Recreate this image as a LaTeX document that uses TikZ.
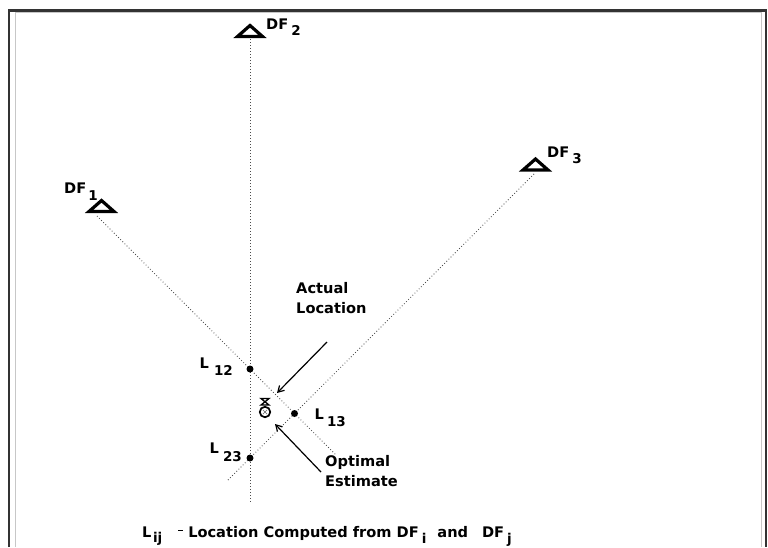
\documentclass[tikz,border=0pt]{standalone}
\usepackage{fontspec}
\setmainfont{DejaVu Sans}
\usetikzlibrary{arrows.meta,calc}

% lowered, slightly smaller index used after L and DF
\newcommand\idx[3][4pt]{\hspace{#1}\raisebox{#2}{\fontsize{13.5}{16}\selectfont#3}}

\begin{document}
\begin{tikzpicture}[x=1pt,y=-1pt,
  frameline/.style={line width=2.4pt,black!80},
  frameinner/.style={line width=0.9pt,black!22},
  bearing/.style={line width=0.8pt,black!70,dash pattern=on 0.8pt off 2.2pt},
  station/.style={line width=3.2pt,line join=miter},
  fixdot/.style={circle,fill=black,inner sep=0pt,minimum size=7pt},
  lbl/.style={font=\fontsize{14.6}{20}\selectfont\bfseries,inner sep=0pt,anchor=base west,align=left},
  pointer/.style={line width=1.2pt,-{Straight Barb[length=6pt,width=7pt]}}]
\useasboundingbox (0,0) rectangle (768,547);

% window frame, open at the bottom
\draw[frameinner] (15,547) -- (15,12.3) -- (761,12.3) -- (761,547);
\draw[frameline] (8.7,547) -- (8.7,10.5) -- (766,10.5) -- (766,547);

% direction finder stations
\coordinate (df1) at (101.5,211.5);
\coordinate (df2) at (250,36.5);
\coordinate (df3) at (535.5,170);
\foreach \s in {df1,df2,df3}
  \draw[station,shift={(\s)}] (-12.5,0) -- (0,-11) -- (12.5,0) -- cycle;

\node[lbl] (df1lbl) at (64,193) {DF\idx[2pt]{-7pt}{1}};
\node[lbl] (df2lbl) at (266,29.5) {DF\idx[3pt]{-6pt}{2}};
\node[lbl] (df3lbl) at (547,157) {DF\idx[3pt]{-6pt}{3}};

% bearing lines
\coordinate (b1a) at (97,216);  \coordinate (b1b) at (336,455);
\coordinate (b2a) at (250,39);  \coordinate (b2b) at (250,502);
\coordinate (b3a) at (534,174); \coordinate (b3b) at (227,481);
\draw[bearing] (b1a) -- (b1b);
\draw[bearing] (b2a) -- (b2b);
\draw[bearing] (b3a) -- (b3b);

% pairwise intersections
\node[fixdot] (l12) at (250,369) {};
\node[fixdot] (l13) at (294.5,413.5) {};
\node[fixdot] (l23) at (250,458) {};
\node[lbl] (l12lbl) at (199.5,368.3) {L\idx[5pt]{-7pt}{12}};
\node[lbl] (l13lbl) at (314.5,419) {L\idx[3pt]{-7pt}{13}};
\node[lbl] (l23lbl) at (209.5,453) {L\idx[4pt]{-8pt}{23}};

% actual location (hourglass) and optimal estimate (circled cross)
\draw[line width=1.3pt,line join=miter] (261,398.5) -- (269,398.5) -- (261,405) -- (269,405) -- cycle;
\node[circle,draw,line width=1.7pt,minimum size=10.5pt,inner sep=0pt] (est) at (265,412) {};
\draw[line width=0.5pt,black!60] ($(est)+(-2.2,-2.2)$) -- ($(est)+(2.2,2.2)$)
  ($(est)+(-2.2,2.2)$) -- ($(est)+(2.2,-2.2)$);

\node[lbl] (actual) at (296,313.3) {Actual\\Location};
\node[lbl] (optimal) at (325,486.7) {Optimal\\Estimate};
\coordinate (aTail) at (327,342); \coordinate (aTip) at (277,393);
\coordinate (oTail) at (321,472); \coordinate (oTip) at (275,424);
\draw[pointer] (aTail) -- (aTip);
\draw[pointer] (oTail) -- (oTip);

% legend
\node[lbl] (key) at (142,537)
  {L\idx[1.5pt]{-5pt}{ij}\hspace{16pt}\rule[6pt]{5pt}{1.3pt}\hspace{5pt}Location Computed from DF\idx[3pt]{-6.5pt}{i}\hspace{11pt}and\hspace{14pt}DF\idx[3pt]{-6.5pt}{j}};
\end{tikzpicture}
\end{document}
